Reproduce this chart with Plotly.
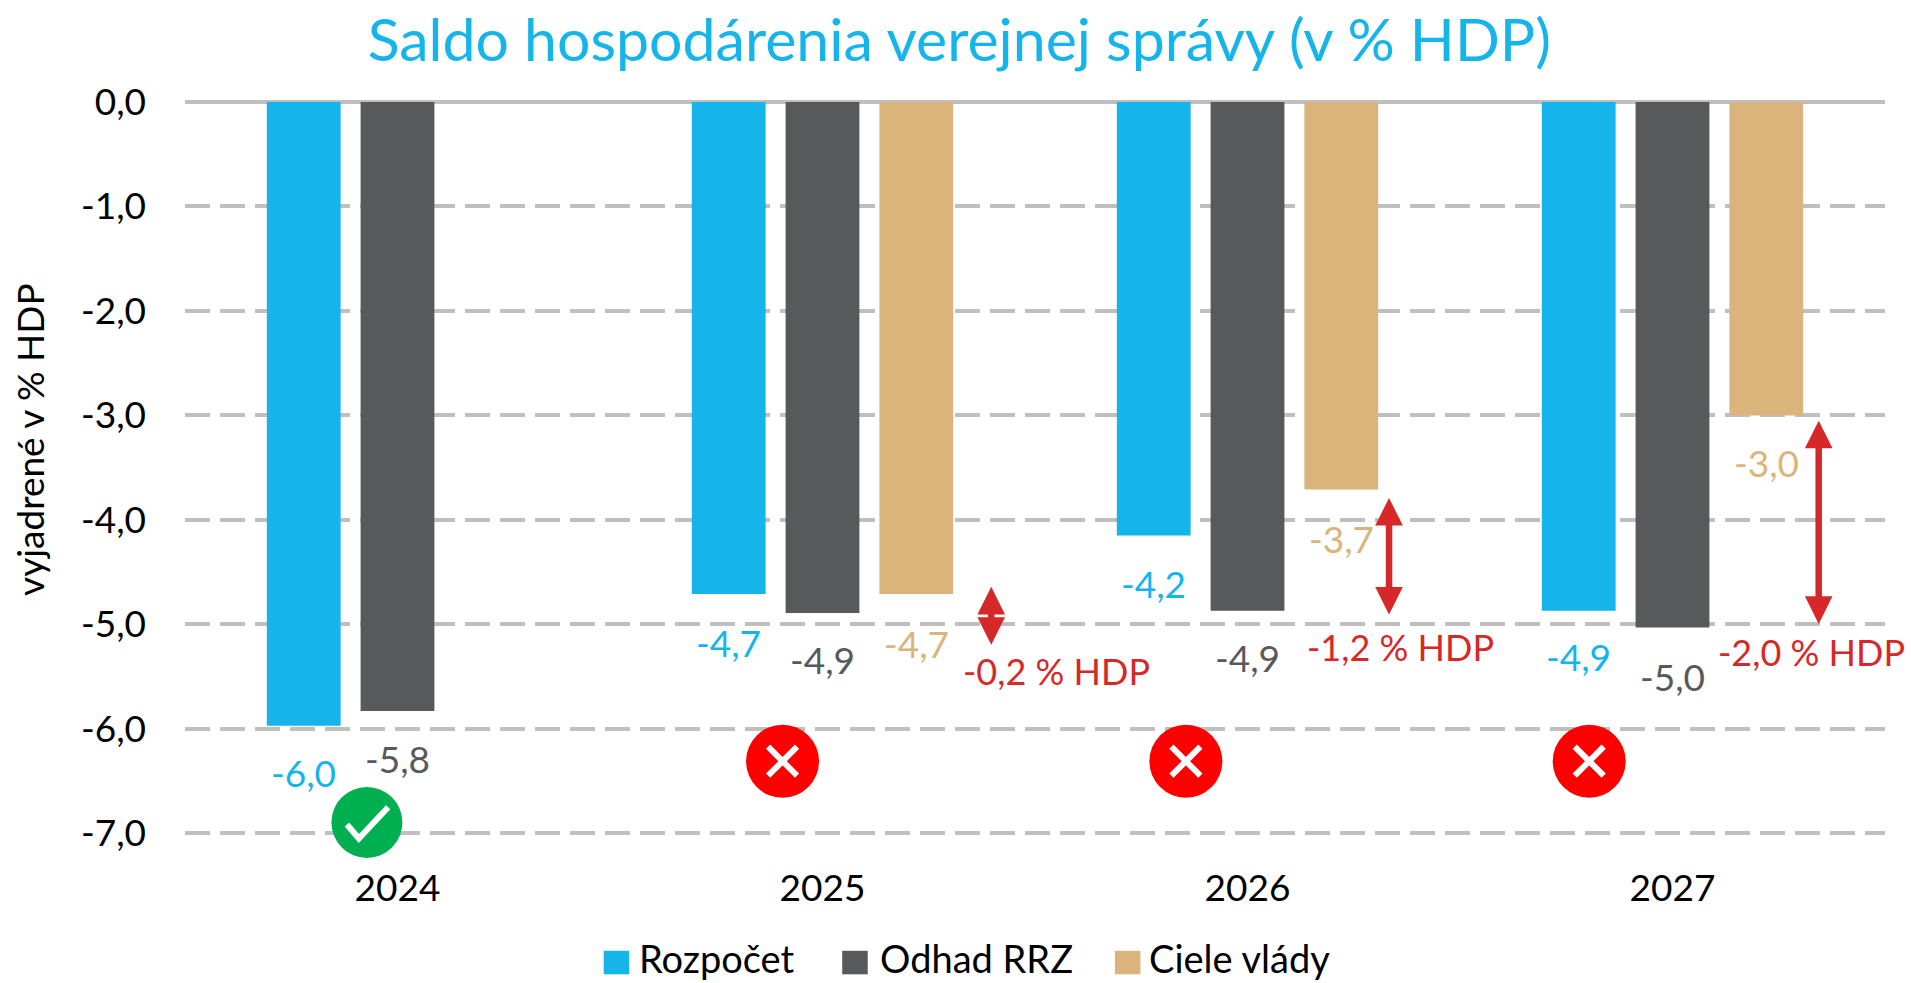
import plotly.graph_objects as go

# ---- data ----
years = ["2024", "2025", "2026", "2027"]
x_pos = [0, 1, 2, 3]
rozpocet = [-5.97, -4.71, -4.15, -4.87]
odhad_rrz = [-5.83, -4.89, -4.87, -5.03]
ciele_vlady = [None, -4.71, -3.71, -3.00]
y_ticks = [0, -1, -2, -3, -4, -5, -6, -7]
y_tick_text = ["0,0", "-1,0", "-2,0", "-3,0", "-4,0", "-5,0", "-6,0", "-7,0"]
series_names = ["Rozpočet", "Odhad RRZ", "Ciele vlády"]

# label positions (value-axis height of each label)
rozpocet_label_y = [-6.42, -5.17, -4.61, -5.31]
odhad_label_y = [-6.28, -5.34, -5.32, -5.50]
ciele_label_y = [None, -5.18, -4.18, -3.45]

# gap arrows between the estimate and the government targets
gap_x = [1.397, 2.333, 3.344]
gap_top = [-4.64, -3.79, -3.05]
gap_bottom = [-5.21, -4.92, -5.01]
gap_text = ["-0,2 % HDP", "-1,2 % HDP", "-2,0 % HDP"]
gap_text_x = [1.551, 2.359, 3.326]
gap_text_y = [-5.45, -5.216, -5.26]

# status icons
miss_x = [0.906, 1.855, 2.804]
miss_y = [-6.31, -6.31, -6.31]
ok_x = [-0.072]
ok_y = [-6.896]
check_x = [-0.119, -0.091, -0.022]
check_y = [-6.915, -7.05, -6.75]

# hand-placed legend, in fractions of the plot area
legend_swatch_x = [0.2463, 0.3866, 0.5470]
legend_text_x = [0.2658, 0.4075, 0.5658]
legend_y = -0.152
legend_text_y = -0.1455
swatch_w, swatch_h = 0.0150, 0.0315

BLUE, GREY, TAN, RED = "#15B5EB", "#58595B", "#DBB47C", "#D62828"
COLORS = [BLUE, GREY, TAN]
FONT = "Lato"
STEP = 94 / 425.0


def fmt(v):
    return f"{v:.1f}".replace(".", ",")


fig = go.Figure()
for name, vals, col in zip(series_names, [rozpocet, odhad_rrz, ciele_vlady], COLORS):
    fig.add_bar(x=x_pos, y=vals, name=name, marker=dict(color=col, line_width=0), showlegend=False)

fig.add_scatter(x=miss_x, y=miss_y, mode="markers", showlegend=False, hoverinfo="skip", cliponaxis=False,
                marker=dict(symbol="circle", size=73, color="#FF0000"))
fig.add_scatter(x=miss_x, y=miss_y, mode="markers", showlegend=False, hoverinfo="skip", cliponaxis=False,
                marker=dict(symbol="x-thin", size=29, line=dict(color="white", width=6)))
fig.add_scatter(x=ok_x, y=ok_y, mode="markers", showlegend=False, hoverinfo="skip", cliponaxis=False,
                marker=dict(symbol="circle", size=71, color="#00B050"))
fig.add_scatter(x=check_x, y=check_y, mode="lines", showlegend=False, hoverinfo="skip",
                line=dict(color="white", width=6))

# value labels
for vals, ys, col, off in [(rozpocet, rozpocet_label_y, BLUE, -STEP), (odhad_rrz, odhad_label_y, GREY, 0),
                           (ciele_vlady, ciele_label_y, TAN, STEP)]:
    for x, v, y in zip(x_pos, vals, ys):
        if v is None:
            continue
        fig.add_annotation(x=x + off, y=y, text=fmt(v), showarrow=False, font=dict(family=FONT, size=37, color=col))

# gap arrows and texts
for x, top, bot in zip(gap_x, gap_top, gap_bottom):
    fig.add_annotation(x=x, y=top, ax=x, ay=bot, xref="x", yref="y", axref="x", ayref="y", text="",
                       showarrow=True, arrowside="end+start", arrowhead=2, startarrowhead=2,
                       arrowsize=0.85, startarrowsize=0.85, arrowwidth=6.5, arrowcolor=RED)
for x, y, t in zip(gap_text_x, gap_text_y, gap_text):
    fig.add_annotation(x=x, y=y, text=t, showarrow=False, font=dict(family=FONT, size=36, color=RED))

fig.add_annotation(xref="paper", yref="paper", x=-0.106, y=0.548, text="vyjadrené v % HDP", textangle=-90,
                   showarrow=False, font=dict(family=FONT, size=37, color="black"))

# legend
for sx, tx, name, col in zip(legend_swatch_x, legend_text_x, series_names, COLORS):
    fig.add_shape(type="rect", xref="paper", yref="paper", x0=sx, x1=sx + swatch_w,
                  y0=legend_y - swatch_h / 2, y1=legend_y + swatch_h / 2, fillcolor=col, line_width=0)
    fig.add_annotation(xref="paper", yref="paper", x=tx, y=legend_text_y, xanchor="left", yanchor="middle", text=name,
                       showarrow=False, font=dict(family=FONT, size=38, color="black"))

fig.update_layout(
    width=1911, height=983, margin=dict(l=185, r=26, t=102.4, b=133.6),
    paper_bgcolor="white", plot_bgcolor="white", barmode="group", bargap=0.338, bargroupgap=0.213,
    font=dict(family=FONT, color="black"), showlegend=False,
    title=dict(text="Saldo hospodárenia verejnej správy (v % HDP)", x=0.502, xanchor="center", y=0.959, yanchor="middle",
               font=dict(family=FONT, size=59, color=BLUE)),
    xaxis=dict(range=[-0.5, 3.5], tickvals=x_pos, ticktext=years, showgrid=False, zeroline=False, showline=False,
               ticks="", tickfont=dict(size=37), ticklabelstandoff=14, automargin=False),
    yaxis=dict(range=[-7.15, 0], tickvals=y_ticks, ticktext=y_tick_text, showgrid=True,
               gridcolor="#BFBFBF", gridwidth=3.5, griddash="25px,10px", zeroline=True, zerolinecolor="#BFBFBF",
               zerolinewidth=3.5, ticks="", tickfont=dict(size=37), ticklabelstandoff=38, showline=False,
               automargin=False),
)
fig.write_html("out.html", config=dict(displayModeBar=False), post_script="document.body.style.margin='0';")
